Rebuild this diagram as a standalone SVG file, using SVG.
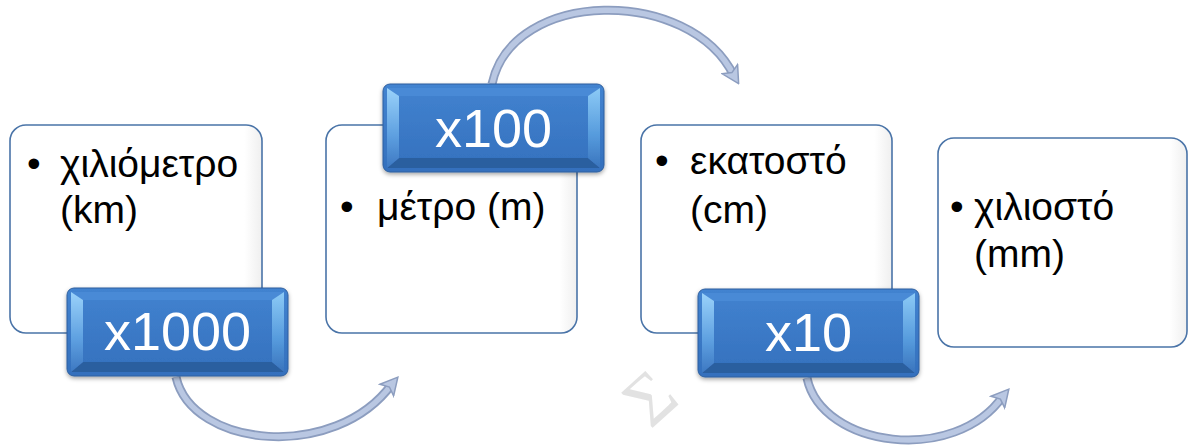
<svg xmlns="http://www.w3.org/2000/svg" width="1189" height="448" viewBox="0 0 1189 448">
<style>
.card{fill:url(#cardFill);stroke:#4a74a8;stroke-width:1.6}
.txt{font-family:"Liberation Sans",Arial,sans-serif;font-size:39px;fill:#000}
.btxt{font-family:"Liberation Sans",Arial,sans-serif;font-size:54px;fill:#fff;text-anchor:middle}
.arrOut{fill:none;stroke:#8c9dbf;stroke-width:9;stroke-linecap:butt}
.arrIn{fill:none;stroke:#b9c7e2;stroke-width:5.5}
.wm{font-family:"Liberation Serif",serif;font-size:72px;fill:#e2e2e2;text-anchor:middle}
</style>
<defs>
<linearGradient id="cardFill" x1="0" y1="0" x2="1" y2="0">
<stop offset="0" stop-color="#ffffff"/><stop offset="0.93" stop-color="#ffffff"/><stop offset="1" stop-color="#efefef"/>
</linearGradient>
<linearGradient id="blueMain" x1="0" y1="0" x2="0" y2="1">
<stop offset="0" stop-color="#4283d0"/><stop offset="1" stop-color="#3470bd"/>
</linearGradient>
<linearGradient id="bevL" x1="0" y1="0" x2="0" y2="1">
<stop offset="0" stop-color="#9ad2fa"/><stop offset="0.6" stop-color="#5d9fe0"/><stop offset="1" stop-color="#3d78c2"/>
</linearGradient>
<linearGradient id="bevR" x1="0" y1="0" x2="0" y2="1">
<stop offset="0" stop-color="#8ccaf6"/><stop offset="0.6" stop-color="#559adc"/><stop offset="1" stop-color="#3a74bd"/>
</linearGradient>
<filter id="sh" x="-10%" y="-10%" width="120%" height="130%">
<feDropShadow dx="0" dy="2" stdDeviation="2" flood-color="#000" flood-opacity="0.35"/>
</filter>
<g id="blue">
<rect x="0" y="0" width="221" height="88" rx="7" fill="url(#blueMain)" stroke="#2e5f9e" stroke-width="1"/>
<polygon points="4,4 217,4 205,12 16,12" fill="#4a8ad6"/>
<polygon points="4,84 217,84 205,74 16,74" fill="#2c5e9f"/>
<polygon points="4,4 16,12 16,74 4,84" fill="url(#bevL)"/>
<polygon points="217,4 205,12 205,74 217,84" fill="url(#bevR)"/>
</g>
<marker id="ah" viewBox="0 0 20 20" refX="10" refY="10" markerWidth="20" markerHeight="20" markerUnits="userSpaceOnUse" orient="auto">
<polygon points="2,1 19,10 2,19 6,10" fill="#b9c7e2" stroke="#8c9dbf" stroke-width="1.5"/>
</marker>
</defs>

<text class="wm" x="0" y="24" transform="translate(650,398) rotate(-42)">Σ</text>

<g id="connectors">
<path class="arrOut" d="M176,377 C192,448 335,462 392,384"/>
<path class="arrIn" d="M176,377 C192,448 335,462 392,384"/>
<path class="arrOut" d="M492,84 C512,-12 690,-14 734,76"/>
<path class="arrIn" d="M492,84 C512,-12 690,-14 734,76"/>
<path class="arrOut" d="M807,378 C822,448 955,465 1003,396"/>
<path class="arrIn" d="M807,378 C822,448 955,465 1003,396"/>
<path d="M380,398 L392,384" fill="none" stroke="none" marker-end="url(#ah)"/>
<path d="M728,66 L734,76" fill="none" stroke="none" marker-end="url(#ah)"/>
<path d="M992,409 L1003,396" fill="none" stroke="none" marker-end="url(#ah)"/>
</g>

<g id="km">
<rect class="card" x="10" y="125" width="252" height="208" rx="16"/>
<text class="txt" x="27" y="177">•</text>
<text class="txt" x="60" y="177">χιλιόμετρο</text>
<text class="txt" x="60" y="223">(km)</text>
</g>
<g id="m">
<rect class="card" x="326" y="125" width="251" height="208" rx="16"/>
<text class="txt" x="340" y="220">•</text>
<text class="txt" x="377" y="220">μέτρο (m)</text>
</g>
<g id="cm">
<rect class="card" x="641" y="125" width="251" height="208" rx="16"/>
<text class="txt" x="655" y="174">•</text>
<text class="txt" x="690" y="174">εκατοστό</text>
<text class="txt" x="690" y="223">(cm)</text>
</g>
<g id="mm">
<rect class="card" x="938" y="138" width="249" height="209" rx="16"/>
<text class="txt" x="950" y="220">•</text>
<text class="txt" x="974" y="220">χιλιοστό</text>
<text class="txt" x="974" y="267">(mm)</text>
</g>

<g id="x1000">
<use href="#blue" x="67" y="288" filter="url(#sh)"/>
<text class="btxt" x="177.5" y="350">x1000</text>
</g>
<g id="x100">
<use href="#blue" x="383" y="84" filter="url(#sh)"/>
<text class="btxt" x="493.5" y="147">x100</text>
</g>
<g id="x10">
<use href="#blue" x="698" y="289" filter="url(#sh)"/>
<text class="btxt" x="808.5" y="351">x10</text>
</g>
</svg>
